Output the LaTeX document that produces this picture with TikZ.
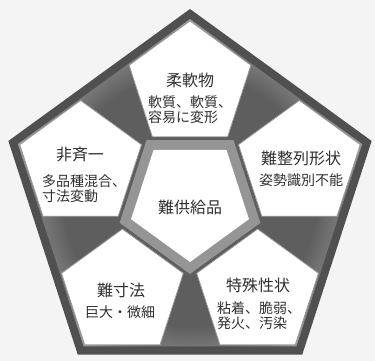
\documentclass[tikz,border=0pt]{standalone}
\usepackage{fontspec}
\newfontfamily\jp{Noto Sans CJK JP}
\definecolor{bgc}{HTML}{F4F4F4}
\definecolor{outerc}{HTML}{505050}
\definecolor{gA}{HTML}{5E5E5E}
\definecolor{gB}{HTML}{9E9E9E}
\definecolor{gC}{HTML}{CFCFCF}
\definecolor{gD}{HTML}{E0E0E0}
\definecolor{bandc}{HTML}{959595}
\definecolor{petalline}{HTML}{9A9A9A}
\definecolor{txt}{HTML}{303030}
\pgfdeclareradialshading{gapshade}{\pgfpoint{0bp}{0bp}}{color(0bp)=(gA); color(16.6bp)=(gA); color(24bp)=(gB); color(35bp)=(gC); color(50bp)=(gD)}
\tikzset{
  ttl/.style={font=\jp\fontsize{16}{18}\selectfont, text=txt, inner sep=0pt},
  sub/.style={font=\jp\fontsize{14}{15.5}\selectfont, text=txt, align=left, inner sep=0pt},
  petal/.style={fill=white, draw=petalline, line width=0.8pt, line join=miter}
}
\begin{document}
\begin{tikzpicture}[x=1pt,y=1pt]
\useasboundingbox (0,0) rectangle (375,361);
\fill[bgc] (0,0) rectangle (375,361);
\begin{scope}[shift={(190,161)}]
  \fill[outerc] (90:191) -- (162:191) -- (234:191) -- (306:191) -- (18:191) -- cycle;
  \begin{scope}
    \clip (90:181) -- (162:181) -- (234:181) -- (306:181) -- (18:181) -- cycle;
    \shade[shading=gapshade] (0,0) circle (190);
  \end{scope}
  \foreach \k in {90,162,234,306,18} {
    \filldraw[petal, shift={(\k:115)}] (\k:64) -- (\k+72:64) -- (\k+144:64) -- (\k+216:64) -- (\k+288:64) -- cycle;
  }
  \fill[bandc] (270:74) -- (342:74) -- (54:74) -- (126:74) -- (198:74) -- cycle;
  \fill[white] (270:62) -- (342:62) -- (54:62) -- (126:62) -- (198:62) -- cycle;
\end{scope}
\node[ttl] (t1) at (190,281) {柔軟物};
\node[sub] (s1) at (190,251.5) {軟質、軟質、\\容易に変形};
\node[ttl] (t2) at (80,206) {非斉一};
\node[sub] (s2) at (84,172.5) {多品種混合、\\寸法変動};
\node[ttl] (t3) at (301,203) {難整列形状};
\node[sub] (s3) at (301,181) {姿勢識別不能};
\node[ttl] (t4) at (121,71) {難寸法};
\node[sub] (s4) at (120,49) {巨大・微細};
\node[ttl] (t5) at (258,76) {特殊性状};
\node[sub] (s5) at (259,45.5) {粘着、脆弱、\\発火、汚染};
\node[ttl] (c) at (190,154) {難供給品};
\end{tikzpicture}
\end{document}
